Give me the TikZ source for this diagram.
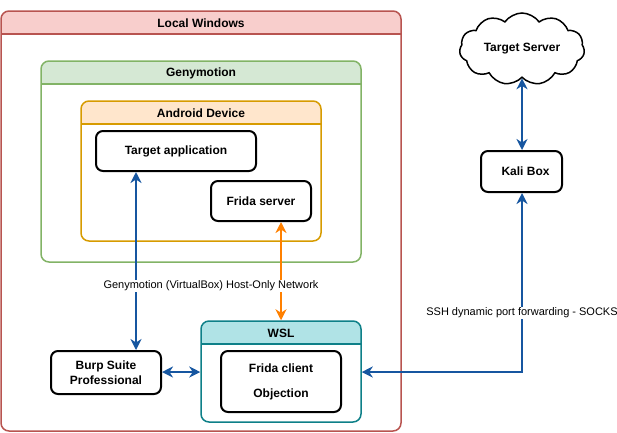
\documentclass[tikz,border=0pt]{standalone}
\usepackage{fontspec}
\setmainfont{Liberation Sans}
\usetikzlibrary{arrows.meta,shapes.symbols}
\definecolor{lwfill}{HTML}{F8CECC}\definecolor{lwline}{HTML}{B85450}
\definecolor{gyfill}{HTML}{D5E8D4}\definecolor{gyline}{HTML}{82B366}
\definecolor{adfill}{HTML}{FFE6CC}\definecolor{adline}{HTML}{D79B00}
\definecolor{wsfill}{HTML}{B0E3E6}\definecolor{wsline}{HTML}{0E8088}
\definecolor{arblue}{HTML}{1656A0}\definecolor{arorange}{HTML}{FF8000}
\tikzset{
  lane/.style={draw=#1, line width=1.5pt, rounded corners=8pt, inner sep=0pt},
  lanetitle/.style={font=\fontsize{12}{14}\selectfont\bfseries, inner sep=0pt},
  box/.style={draw=black, line width=2pt, rounded corners=7pt, fill=white, align=center,
    font=\fontsize{12}{15}\selectfont\bfseries, inner sep=0pt},
  tip/.style={Stealth[length=11pt,width=11pt,inset=3.5pt]},
  link/.style={line width=2pt, draw=arblue, {Stealth[length=11pt,width=11pt,inset=3.5pt]}-{Stealth[length=11pt,width=11pt,inset=3.5pt]}},
  lbl/.style={fill=white, inner sep=1pt, font=\fontsize{11}{13}\selectfont},
}
\begin{document}
\begin{tikzpicture}[x=1pt,y=-1pt]
\useasboundingbox (0,0) rectangle (617,432);
% Local Windows
\fill[lwfill] (1,34) [rounded corners=8pt] -- (1,11) -- (401,11) [sharp corners] -- (401,34) -- cycle;
\node[lane=lwline, minimum width=400pt, minimum height=420pt] (lw) at (201,221) {};
\draw[lwline, line width=1.5pt] (1,34) -- (401,34);
\node[lanetitle] (lwt) at (201,23) {Local Windows};
% Genymotion
\fill[gyfill] (41,84) [rounded corners=8pt] -- (41,61) -- (361,61) [sharp corners] -- (361,84) -- cycle;
\node[lane=gyline, minimum width=320pt, minimum height=201pt] (gy) at (201,161.5) {};
\draw[gyline, line width=1.5pt] (41,84) -- (361,84);
\node[lanetitle] (gyt) at (201,73) {Genymotion};
% Android device
\fill[adfill] (81,124) [rounded corners=8pt] -- (81,101) -- (321,101) [sharp corners] -- (321,124) -- cycle;
\node[lane=adline, minimum width=240pt, minimum height=140pt] (ad) at (201,171) {};
\draw[adline, line width=1.5pt] (81,124) -- (321,124);
\node[lanetitle] (adt) at (201,113) {Android Device};
% WSL
\fill[wsfill] (201,344) [rounded corners=8pt] -- (201,321) -- (361,321) [sharp corners] -- (361,344) -- cycle;
\node[lane=wsline, minimum width=160pt, minimum height=101pt] (ws) at (281,371.5) {};
\draw[wsline, line width=1.5pt] (201,344) -- (361,344);
\node[lanetitle] (wst) at (281,333) {WSL};
% boxes
\node[box, minimum width=160pt, minimum height=40pt] (ta) at (176,151) {Target application};
\node[box, minimum width=100pt, minimum height=40pt] (fs) at (261,201) {Frida server};
\node[box, minimum width=120pt, minimum height=61pt] (fc) at (281,381.5) {Frida client\\[10pt]Objection};
\node[box, minimum width=110pt, minimum height=43pt] (bs) at (106,372.5) {Burp Suite\\Professional};
\node[box, minimum width=81pt, minimum height=41pt] (kb) at (521.5,171.5) {\hspace{8pt}Kali Box};
\node[cloud, draw=black, line width=1.5pt, cloud puffs=11, cloud puff arc=110, aspect=2,
  minimum width=125pt, minimum height=72pt, inner sep=0pt,
  font=\fontsize{12}{14}\selectfont\bfseries] (ts) at (522,49) {Target Server};
% connectors
\draw[link] (ta.south -| 136,0) -- (bs.north -| 136,0);
\draw[link, draw=arorange] (fs.south -| 281,0) -- (ws.north -| 281,0);
\draw[link] (bs.east |- 0,372) -- (ws.west |- 0,372);
\draw[link] (ts.south -| 522,0) -- (kb.north -| 522,0);
\coordinate (bend) at (522,372);
\draw[link] (kb.south -| 522,0) -- (bend) -- (ws.east |- bend);
% labels
\node[lbl] (l1) at (211,286) {Genymotion (VirtualBox) Host-Only Network};
\node[lbl] (l2) at (522,313) {SSH dynamic port forwarding - SOCKS};
\end{tikzpicture}
\end{document}
